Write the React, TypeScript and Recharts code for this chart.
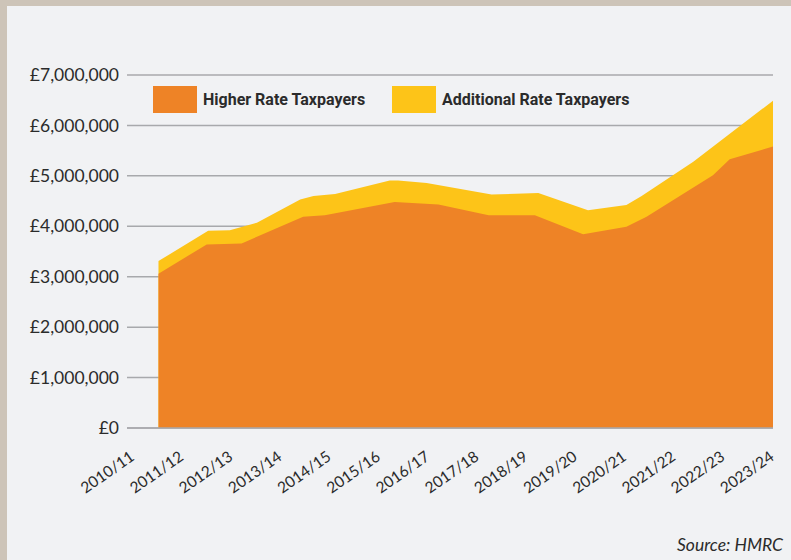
import React from 'react'
import { Area, AreaChart, CartesianGrid, XAxis, YAxis } from 'recharts'

// Tax years shown under the axis, one tick per year.
const years = [
  '2010/11', '2011/12', '2012/13', '2013/14', '2014/15', '2015/16', '2016/17',
  '2017/18', '2018/19', '2019/20', '2020/21', '2021/22', '2022/23', '2023/24',
]

// The source plots its outline at uneven points between the year ticks,
// so each series keeps its own positions (in years from 2010/11).
const higherRatePos = [0.51, 1.49, 2.2, 3.45, 3.89, 5.31, 6.2, 7.22, 8.16, 9.14, 10.02, 10.43, 11.78, 12.12, 13]
const higherRate = [3.06, 3.64, 3.66, 4.19, 4.22, 4.48, 4.43, 4.22, 4.22, 3.84, 3.99, 4.19, 5.01, 5.33, 5.58]

// Top edge of the yellow band = higher + additional rate taxpayers
const bothRatesPos = [0.51, 1.52, 1.96, 2.51, 3.39, 3.66, 4.1, 5.21, 5.38, 5.96, 7.28, 8.23, 9.24, 9.72, 10.02, 10.33, 11.38, 13]
const bothRates = [3.31, 3.91, 3.92, 4.07, 4.53, 4.6, 4.64, 4.91, 4.91, 4.86, 4.63, 4.66, 4.32, 4.38, 4.42, 4.6, 5.28, 6.49]

const yTicks = [0, 1, 2, 3, 4, 5, 6, 7].map((m) => m * 1000000)

const ORANGE = '#ee8326'
const YELLOW = '#fdc418'
const INK = '#2b2b2b'

type Row = { t: number; higher: number | null; both: number | null }

// Merge both outlines on one numeric x axis; gaps are bridged with connectNulls.
function buildRows(): Row[] {
  const map = new Map<number, Row>()
  const get = (t: number) => {
    let r = map.get(t)
    if (!r) {
      r = { t, higher: null, both: null }
      map.set(t, r)
    }
    return r
  }
  higherRatePos.forEach((t, i) => (get(t).higher = higherRate[i] * 1000000))
  bothRatesPos.forEach((t, i) => (get(t).both = bothRates[i] * 1000000))
  return [...map.values()].sort((a, b) => a.t - b.t)
}

const rows = buildRows()

function YearTick(props: any) {
  const { x, y, payload } = props
  const ax = x + 2
  const ay = y + 31
  return (
    <text
      x={ax}
      y={ay}
      transform={`rotate(-35 ${ax} ${ay})`}
      textAnchor="end"
      fontSize={15.5}
      fill={INK}
      fontFamily="Lato, sans-serif"
    >
      {years[payload.value]}
    </text>
  )
}

function LegendItem({ color, label, left }: { color: string; label: string; left: number }) {
  return (
    <div style={{ position: 'absolute', left, top: 86, display: 'flex', alignItems: 'center' }}>
      <div style={{ width: 44, height: 27, background: color }} />
      <span
        style={{
          marginLeft: 6,
          fontFamily: 'Roboto, sans-serif',
          fontWeight: 700,
          fontSize: 16,
          color: INK,
        }}
      >
        {label}
      </span>
    </div>
  )
}

export default function App() {
  return (
    <div style={{ position: 'absolute', left: 0, top: 0, width: 791, height: 560, background: '#cdc4b8' }}>
      <div style={{ position: 'absolute', left: 7, top: 6, width: 784, height: 554, background: '#f1f2f4' }} />
      <div style={{ position: 'absolute', left: 0, top: 0 }}>
        <AreaChart width={791} height={560} data={rows} margin={{ top: 75, right: 18, bottom: 72, left: 0 }}>
          <CartesianGrid vertical={false} stroke="#a8a9ac" strokeWidth={1.5} />
          <XAxis
            dataKey="t"
            type="number"
            domain={[-0.13, 13]}
            ticks={years.map((_, i) => i)}
            interval={0}
            tick={<YearTick />}
            tickLine={false}
            tickSize={0}
            tickMargin={0}
            axisLine={{ stroke: '#a8a9ac', strokeWidth: 1.5 }}
            height={60}
            allowDataOverflow
          />
          <YAxis
            width={127}
            domain={[0, 7000000]}
            ticks={yTicks}
            interval={0}
            axisLine={false}
            tickLine={false}
            tickSize={0}
            tickMargin={8}
            tick={{ fontSize: 17.5, fill: INK, fontFamily: 'Lato, sans-serif' }}
            tickFormatter={(v: number) => `£${v.toLocaleString('en-GB')}`}
          />
          <Area
            dataKey="both"
            type="linear"
            connectNulls
            stroke="none"
            fill={YELLOW}
            fillOpacity={1}
            isAnimationActive={false}
          />
          <Area
            dataKey="higher"
            type="linear"
            connectNulls
            stroke="none"
            fill={ORANGE}
            fillOpacity={1}
            isAnimationActive={false}
          />
        </AreaChart>
        <LegendItem color={ORANGE} label="Higher Rate Taxpayers" left={153} />
        <LegendItem color={YELLOW} label="Additional Rate Taxpayers" left={392} />
        <div
          style={{
            position: 'absolute',
            right: 8,
            top: 534,
            fontFamily: 'Lato, sans-serif',
            fontStyle: 'italic',
            fontSize: 17.5,
            color: INK,
            whiteSpace: 'nowrap',
          }}
        >
          Source: HMRC
        </div>
      </div>
    </div>
  )
}
